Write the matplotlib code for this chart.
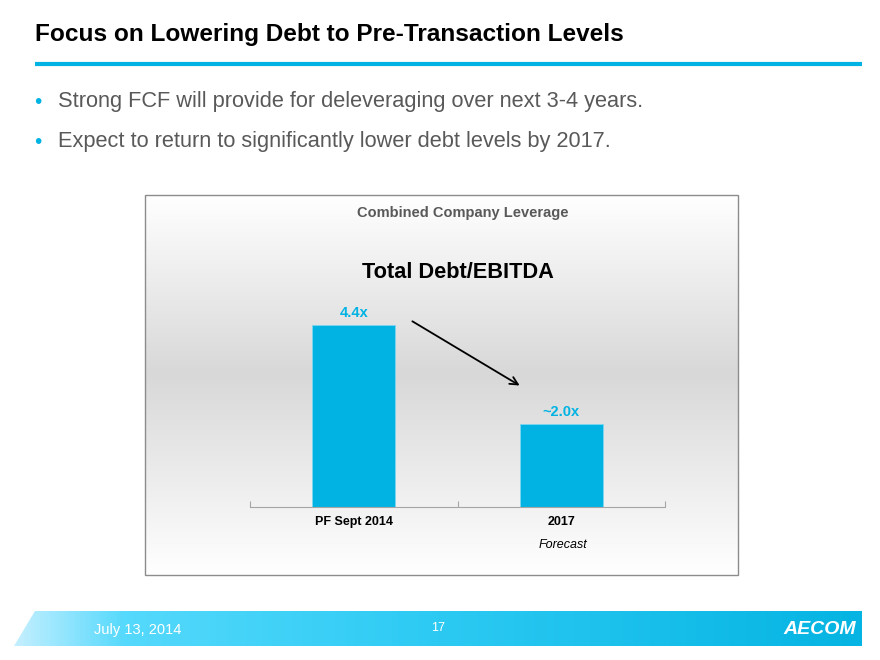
import matplotlib.pyplot as plt
import numpy as np
from matplotlib.patches import Polygon, Rectangle
from matplotlib.colors import LinearSegmentedColormap

plt.rcParams['font.family'] = ['Liberation Sans', 'DejaVu Sans']

categories = ["PF Sept 2014", "2017"]
values = [4.4, 2.0]
value_labels = ["4.4x", "~2.0x"]
sub_labels = ["", "Forecast"]

title = "Focus on Lowering Debt to Pre-Transaction Levels"
bullets = ["Strong FCF will provide for deleveraging over next 3-4 years.",
           "Expect to return to significantly lower debt levels by 2017."]

blue = "#00b3e3"
W, H = 880, 660

fig = plt.figure(figsize=(8.8, 6.6), dpi=100)

# page layer in pixel coords (y down)
bg = fig.add_axes([0, 0, 1, 1])
bg.set_xlim(0, W)
bg.set_ylim(H, 0)
bg.axis("off")

bg.text(35, 35, title, fontsize=17.6, fontweight="bold", color="black", va="center", ha="left")
bg.plot([35, 862], [64, 64], color=blue, lw=3, solid_capstyle="butt")
for i, b in enumerate(bullets):
    y = 102 + i * 40
    bg.text(34, y + 1, "•", fontsize=15, color=blue, va="center", ha="left")
    bg.text(58, y, b, fontsize=15.7, color="#595959", va="center", ha="left")

# chart box with vertical gradient
grad_cmap = LinearSegmentedColormap.from_list("g", [(0, "#ffffff"), (0.47, "#d8d8d8"), (1, "#ffffff")])
grad = np.linspace(0, 1, 256).reshape(-1, 1)
bg.imshow(grad, cmap=grad_cmap, extent=[145, 738, 575, 195], aspect="auto", zorder=0)
bg.add_patch(Rectangle((145, 195), 593, 380, fill=False, edgecolor="#8c8c8c", lw=1, zorder=1))
bg.text(463, 213, "Combined Company Leverage", fontsize=10.5, fontweight="bold", color="#595959",
        ha="center", va="center")
bg.text(458, 273, "Total Debt/EBITDA", fontsize=15.7, fontweight="bold", color="black",
        ha="center", va="center")

# footer band
foot_cmap = LinearSegmentedColormap.from_list("f", [(0, "#c4efff"), (0.13, "#55d9fc"),
                                                    (0.5, "#2ccaf3"), (1, "#05b4e2")])
fgrad = np.linspace(0, 1, 256).reshape(1, -1)
im = bg.imshow(fgrad, cmap=foot_cmap, extent=[14, 862, 646, 611], aspect="auto", zorder=0)
im.set_clip_path(Polygon([[35, 611], [862, 611], [862, 646], [14, 646]], closed=True, transform=bg.transData))
bg.text(94, 630, "July 13, 2014", fontsize=10.5, color="white", va="center", ha="left")
bg.text(438, 628, "17", fontsize=9, color="white", va="center", ha="center")
bg.text(856, 629, "AECOM", fontsize=14, fontweight="bold", fontstyle="italic", color="white",
        va="center", ha="right")

# bar chart
ax = fig.add_axes([250 / W, (H - 507) / H, 415 / W, 207 / H])
ax.patch.set_alpha(0)
x = np.arange(len(categories))
ax.bar(x, values, width=0.4, color=blue, edgecolor="#7fd6ef", lw=0.6, zorder=2)
ax.set_xlim(-0.5, 1.5)
ax.set_ylim(0, 5)
for s in ["top", "right", "left"]:
    ax.spines[s].set_visible(False)
ax.spines["bottom"].set_color("#a6a6a6")
ax.set_yticks([])
ax.set_xticks([-0.5, 0.5, 1.5])
ax.set_xticklabels([])
ax.tick_params(axis="x", direction="in", length=4, color="#a6a6a6")
for xi, v, lab, cat, sub in zip(x, values, value_labels, categories, sub_labels):
    ax.text(xi, v + 0.12, lab, ha="center", va="bottom", fontsize=10.5, fontweight="bold", color=blue)
    ax.text(xi, -0.36, cat, ha="center", va="center", fontsize=9, fontweight="bold", color="black")
    if sub:
        ax.text(xi + 0.01, -0.92, sub, ha="center", va="center", fontsize=9, fontstyle="italic", color="black")

ax.annotate("", xy=(0.811, 2.9), xytext=(0.271, 4.52),
            arrowprops=dict(arrowstyle="->", color="black", lw=1.3, mutation_scale=14))

fig.savefig("out.png", dpi=100)
